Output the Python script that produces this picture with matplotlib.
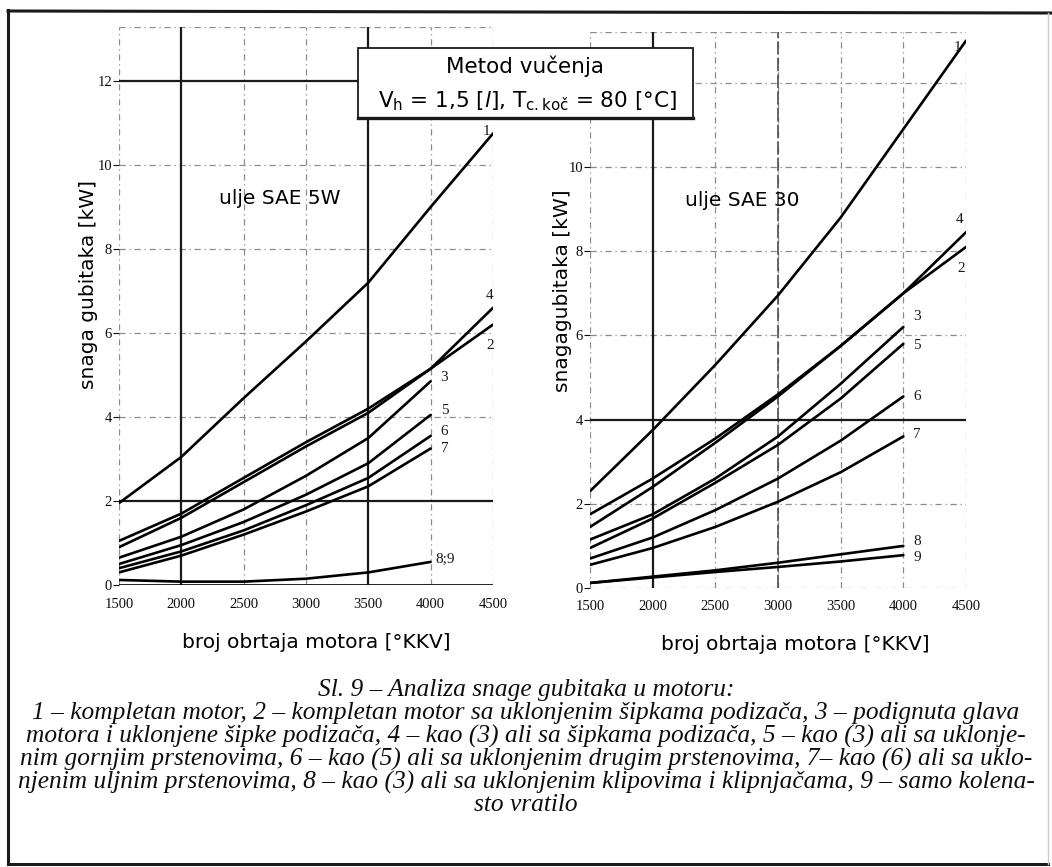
import matplotlib
matplotlib.use("Agg")
import matplotlib.pyplot as plt
from matplotlib.patches import Rectangle
from matplotlib.lines import Line2D

# ---------------- data ----------------
rpm = [1500, 2000, 2500, 3000, 3500, 4000, 4500]
rpm_short = [1500, 2000, 2500, 3000, 3500, 4000]

# ulje SAE 5W (left panel), kW
L1 = [1.95, 3.05, 4.45, 5.8, 7.2, 9.0, 10.75]
L2 = [1.05, 1.7, 2.55, 3.4, 4.2, 5.15, 6.2]
L4 = [0.9, 1.6, 2.45, 3.3, 4.1, 5.15, 6.6]
L3 = [0.65, 1.15, 1.8, 2.6, 3.5, 4.85]
L5 = [0.5, 0.95, 1.5, 2.15, 2.9, 4.05]
L6 = [0.4, 0.8, 1.3, 1.9, 2.55, 3.55]
L7 = [0.3, 0.7, 1.2, 1.75, 2.35, 3.25]
L89 = [0.12, 0.08, 0.08, 0.15, 0.3, 0.55]

# ulje SAE 30 (right panel), kW
R1 = [2.3, 3.75, 5.3, 6.95, 8.8, 10.9, 13.0]
R4 = [1.75, 2.6, 3.55, 4.6, 5.75, 7.0, 8.45]
R2 = [1.45, 2.4, 3.45, 4.55, 5.75, 7.0, 8.1]
R3 = [1.15, 1.75, 2.6, 3.6, 4.85, 6.2]
R5 = [0.95, 1.65, 2.5, 3.4, 4.5, 5.8]
R6 = [0.7, 1.2, 1.85, 2.6, 3.5, 4.55]
R7 = [0.55, 0.95, 1.45, 2.05, 2.75, 3.6]
R8 = [0.12, 0.27, 0.42, 0.6, 0.8, 1.0]
R9 = [0.12, 0.25, 0.38, 0.5, 0.63, 0.78]

x_ticks = [1500, 2000, 2500, 3000, 3500, 4000, 4500]
y_ticks_left = [0, 2, 4, 6, 8, 10, 12]
y_ticks_right = [0, 2, 4, 6, 8, 10]
y_grid = [0, 2, 4, 6, 8, 10, 12]

left_curves = [(rpm, L1, "1"), (rpm, L2, "2"), (rpm, L4, "4"), (rpm_short, L3, "3"),
               (rpm_short, L5, "5"), (rpm_short, L6, "6"), (rpm_short, L7, "7"),
               (rpm_short, L89, "8;9")]
right_curves = [(rpm, R1, "1"), (rpm, R2, "2"), (rpm, R4, "4"), (rpm_short, R3, "3"),
                (rpm_short, R5, "5"), (rpm_short, R6, "6"), (rpm_short, R7, "7"),
                (rpm_short, R8, "8"), (rpm_short, R9, "9")]

title1 = "Metod vučenja"
title2 = r"V$_\mathregular{h}$ = 1,5 [$\mathit{l}$], T$_\mathregular{c.koč}$ = 80 [°C]"
ylabel_left = "snaga gubitaka [kW]"
ylabel_right = "snagagubitaka [kW]"
xlabel = "broj obrtaja motora [°KKV]"
oil_left = "ulje SAE 5W"
oil_right = "ulje SAE 30"
caption = [
    "Sl. 9 – Analiza snage gubitaka u motoru:",
    "1 – kompletan motor, 2 – kompletan motor sa uklonjenim šipkama podizača, 3 – podignuta glava",
    "motora i uklonjene šipke podizača, 4 – kao (3) ali sa šipkama podizača, 5 – kao (3) ali sa uklonje-",
    "nim gornjim prstenovima, 6 – kao (5) ali sa uklonjenim drugim prstenovima, 7– kao (6) ali sa uklo-",
    "njenim uljnim prstenovima, 8 – kao (3) ali sa uklonjenim klipovima i klipnjačama, 9 – samo kolena-",
    "sto vratilo",
]

# label positions (data coords)
lab_left = {"1": (4420, 10.8), "4": (4440, 6.9), "2": (4450, 5.7), "3": (4080, 4.95),
            "5": (4080, 4.15), "6": (4080, 3.65), "7": (4080, 3.25), "8;9": (4040, 0.6)}
lab_right = {"1": (4400, 12.85), "4": (4420, 8.75), "2": (4430, 7.6), "3": (4080, 6.45),
             "5": (4080, 5.75), "6": (4080, 4.55), "7": (4080, 3.65), "8": (4080, 1.1),
             "9": (4080, 0.72)}

# ---------------- layout ----------------
W, H = 1052, 867
plt.rcParams['mathtext.fontset'] = 'dejavusans'
fig = plt.figure(figsize=(W / 100, H / 100), dpi=100)
fig.patch.set_facecolor("white")

def fx(x):
    return x / W

def fy(y):
    return 1 - y / H

serif = "Liberation Serif"
sans = "DejaVu Sans"
grid_style = dict(color="0.55", lw=0.9, ls=(0, (5, 3, 1, 3)), zorder=1)
solid_style = dict(color="0.1", lw=1.6, zorder=1.5)

def setup(ax, ymax, yticks, solid_v, solid_h, bottom_solid):
    ax.set_xlim(1500, 4500)
    ax.set_ylim(0, ymax)
    for s in ax.spines.values():
        s.set_visible(False)
    for xv in x_ticks:
        if xv in solid_v:
            ax.axvline(xv, **solid_style)
        else:
            ax.axvline(xv, **grid_style)
    for yv in y_grid + [ymax]:
        if yv in solid_h:
            ax.axhline(yv, **solid_style)
        elif yv == 0 and bottom_solid:
            ax.axhline(0, color="0.05", lw=2.0, zorder=1.5)
        else:
            ax.axhline(yv, **grid_style)
    ax.set_xticks(x_ticks)
    ax.set_yticks(yticks)
    ax.set_xticklabels([str(v) for v in x_ticks], fontfamily=serif, fontsize=10.5)
    ax.set_yticklabels([str(v) for v in yticks], fontfamily=serif, fontsize=10.5)
    ax.tick_params(axis="x", length=0, pad=9, colors="0.05")
    ax.tick_params(axis="y", length=4, width=0.8, pad=1, colors="0.05", direction="out")
    ax.patch.set_alpha(0)

axL = fig.add_axes([fx(119), fy(585), fx(493) - fx(119), fy(27) - fy(585)])
setup(axL, 558 / 42.0, y_ticks_left, solid_v=[2000, 3500], solid_h=[2, 12], bottom_solid=True)
axR = fig.add_axes([fx(590), fy(588), fx(966) - fx(590), fy(32) - fy(588)])
setup(axR, 556 / 42.1, y_ticks_right, solid_v=[2000], solid_h=[4], bottom_solid=False)
axR.axvline(3000, color="0.3", lw=1.2, ls=(0, (8, 2)), zorder=1.2)

for ax, curves, labs in [(axL, left_curves, lab_left), (axR, right_curves, lab_right)]:
    for xs, ys, name in curves:
        ax.plot(xs, ys, color="black", lw=1.9, zorder=3, solid_capstyle="round",
                solid_joinstyle="round")
        lx, ly = labs[name]
        ax.text(lx, ly, name, fontfamily=serif, fontsize=11, color="0.1",
                ha="left", va="center", zorder=4)

axL.text(2790, 9.2, oil_left, fontfamily=sans, fontsize=14.5, ha="center", va="center")
axR.text(2713, 9.2, oil_right, fontfamily=sans, fontsize=14.5, ha="center", va="center")

# axis labels
fig.text(fx(88), fy(285), ylabel_left, rotation=90, fontfamily=sans, fontsize=14.5,
         ha="center", va="center")
fig.text(fx(562), fy(291), ylabel_right, rotation=90, fontfamily=sans, fontsize=14.5,
         ha="center", va="center")
fig.text(fx(316), fy(642), xlabel, fontfamily=sans, fontsize=14.5, ha="center", va="center")
fig.text(fx(795), fy(645), xlabel, fontfamily=sans, fontsize=14.5, ha="center", va="center")

# title box
fig.patches.append(Rectangle((fx(358), fy(118)), fx(693) - fx(358), fy(48) - fy(118),
                             transform=fig.transFigure, facecolor="white",
                             edgecolor="0.1", lw=1.3, zorder=5))
fig.lines.append(Line2D([fx(358), fx(693)], [fy(118), fy(118)], transform=fig.transFigure,
                        color="0.1", lw=2.4, zorder=6))
fig.text(fx(525), fy(66), title1, fontfamily=sans, fontsize=15.5, ha="center", va="center",
         zorder=7)
fig.text(fx(527), fy(101), title2, fontfamily=sans, fontsize=15.5, ha="center", va="center",
         zorder=7)

# caption: fit line 5 to ~1020 px
probe = fig.text(0, 0, caption[4], fontfamily=serif, style="italic", fontsize=10)
fig.canvas.draw()
wpx = probe.get_window_extent().width
probe.remove()
cap_fs = 10 * 1020 / wpx
cap_y = [690, 713, 736, 759, 782, 805]
for line, yy in zip(caption, cap_y):
    fig.text(fx(526), fy(yy), line, fontfamily=serif, style="italic", fontsize=cap_fs,
             ha="center", va="center", color="0.05")

# outer frame
frame = dict(transform=fig.transFigure, color="0.1", lw=2.2, zorder=8)
fig.lines.append(Line2D([fx(8), fx(8)], [fy(10), fy(864)], **frame))
fig.lines.append(Line2D([fx(8), fx(1052)], [fy(11), fy(13)], **frame))
fig.lines.append(Line2D([fx(8), fx(1048)], [fy(864), fy(864)], **frame))
fig.lines.append(Line2D([fx(1048), fx(1048)], [fy(13), fy(864)], transform=fig.transFigure,
                        color="0.8", lw=1.0, zorder=8))

fig.savefig("out.png", dpi=100, facecolor="white")
